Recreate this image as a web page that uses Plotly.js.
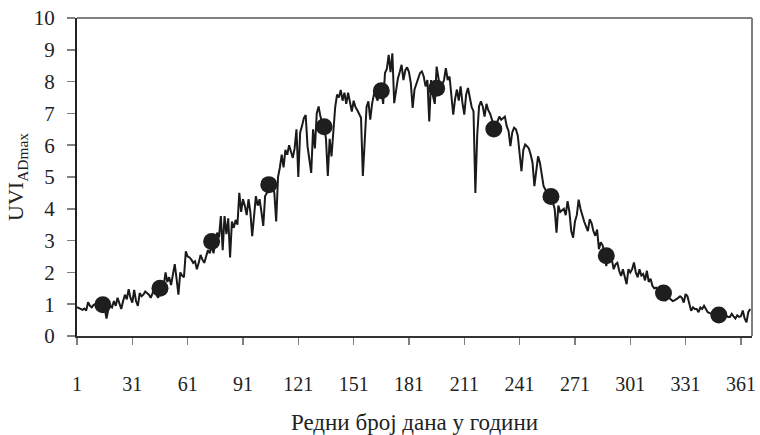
<!DOCTYPE html>
<html>
<head>
<meta charset="utf-8">
<script src="https://cdn.plot.ly/plotly-3.0.1.min.js"></script>
<style>html,body{margin:0;padding:0;background:#fff;}#chart{width:760px;height:435px;}</style>
</head>
<body>
<div id="chart"></div>
<script>
// Daily UVI_ADmax values, day 1 .. 366
var dailyUVI = [
  0.91, 0.88, 0.85, 0.82, 0.86, 0.80, 1.06, 0.95, 0.90, 0.98,
  1.00, 0.92, 0.98, 1.02, 0.95, 0.88, 0.55, 0.85, 0.95, 0.90,
  1.10, 0.95, 1.20, 1.00, 0.85, 1.10, 1.30, 1.15, 1.47, 1.20,
  1.05, 1.45, 1.10, 0.95, 1.35, 1.25, 1.30, 1.40, 1.35, 1.30,
  1.20, 1.35, 1.50, 1.30, 1.20, 1.45, 1.70, 1.55, 2.00, 1.70,
  1.85, 1.60, 2.00, 2.26, 1.80, 1.30, 2.00, 1.90, 1.85, 2.66,
  2.50, 2.47, 2.40, 2.30, 2.35, 2.10, 2.30, 2.55, 2.40, 2.30,
  2.50, 2.70, 2.60, 2.85, 2.60, 2.90, 3.25, 3.10, 3.77, 2.70,
  3.77, 3.20, 3.70, 2.47, 3.60, 3.40, 3.65, 3.50, 4.50, 3.90,
  4.30, 4.10, 3.80, 4.30, 3.90, 3.14, 3.80, 4.40, 4.10, 4.30,
  3.90, 3.46, 4.40, 4.50, 4.80, 4.60, 4.70, 4.50, 3.60, 5.00,
  5.30, 5.70, 5.30, 5.85, 5.70, 6.00, 5.80, 5.60, 5.90, 6.50,
  5.00, 6.40, 6.60, 6.85, 6.95, 5.97, 5.55, 5.13, 6.50, 5.90,
  7.00, 7.22, 6.90, 6.70, 6.60, 6.20, 5.03, 6.20, 5.65, 6.60,
  7.20, 7.59, 7.50, 7.74, 7.40, 7.65, 7.30, 7.65, 7.40, 7.06,
  7.40, 7.20, 7.10, 6.95, 6.86, 5.03, 6.30, 7.20, 7.38, 6.80,
  7.30, 7.60, 7.55, 7.40, 7.70, 7.75, 7.30, 8.27, 8.40, 8.84,
  8.30, 8.89, 7.32, 7.80, 8.10, 8.30, 8.53, 8.05, 8.35, 8.45,
  8.30, 7.95, 7.17, 7.75, 7.95, 8.15, 8.27, 8.32, 8.16, 7.85,
  8.05, 6.75, 8.05, 7.55, 7.30, 8.47, 8.15, 7.75, 7.90, 8.05,
  8.42, 8.05, 8.16, 7.60, 6.96, 7.45, 7.75, 7.40, 7.85, 7.33,
  6.96, 7.60, 7.80, 7.50, 7.20, 7.06, 4.50, 6.30, 7.22, 7.38,
  7.22, 6.90, 7.30, 7.10, 6.99, 6.80, 6.60, 6.70, 6.75, 6.90,
  6.80, 6.85, 6.90, 6.60, 6.45, 5.97, 6.40, 6.55, 6.50, 6.30,
  5.65, 5.18, 5.85, 6.02, 5.97, 5.90, 5.70, 5.45, 4.71, 5.25,
  5.65, 5.45, 5.05, 4.71, 4.60, 4.50, 4.45, 4.40, 4.20, 4.00,
  3.25, 4.10, 3.90, 3.95, 4.00, 3.80, 4.24, 3.90, 3.30, 3.09,
  3.60, 3.80, 4.29, 4.00, 3.75, 3.60, 3.45, 3.30, 3.67, 3.55,
  3.30, 3.15, 3.35, 2.73, 2.95, 2.85, 2.60, 2.20, 2.55, 2.45,
  2.40, 2.10, 2.25, 2.30, 2.05, 1.89, 2.10, 1.85, 1.63, 2.10,
  2.00, 2.10, 2.31, 2.00, 1.85, 2.10, 1.90, 1.95, 1.75, 2.05,
  1.70, 1.80, 1.58, 1.50, 1.52, 1.45, 1.40, 1.35, 1.30, 1.10,
  1.20, 1.20, 1.15, 1.10, 1.12, 1.15, 1.20, 1.25, 1.20, 1.05,
  1.32, 1.25, 1.00, 0.79, 0.90, 0.85, 0.85, 0.75, 0.90, 0.85,
  0.95, 0.85, 0.75, 0.72, 0.70, 0.70, 0.68, 0.70, 0.68, 0.65,
  0.66, 0.62, 0.64, 0.60, 0.60, 0.70, 0.62, 0.55, 0.65, 0.60,
  0.62, 0.80, 0.55, 0.43, 0.75, 0.85
];

// Monthly mean values (mid-month days)
var monthDays = [15, 46, 74, 105, 135, 166, 196, 227, 258, 288, 319, 349];
var monthUVI  = [0.98, 1.50, 2.97, 4.76, 6.58, 7.71, 7.79, 6.51, 4.39, 2.52, 1.35, 0.66];

// x-axis tick labels
var xTickVals = [1, 31, 61, 91, 121, 151, 181, 211, 241, 271, 301, 331, 361];
var xTickText = ['1','31','61','91','121','151','181','211','241','271','301','331','361'];
var yTickVals = [0,1,2,3,4,5,6,7,8,9,10];

var dayIndex = dailyUVI.map(function(v, i){ return i + 1; });

var serif = '"Liberation Serif", "Times New Roman", serif';

var traces = [
  {
    x: dayIndex, y: dailyUVI, type: 'scatter', mode: 'lines',
    line: {color: '#1a1a1a', width: 2},
    hoverinfo: 'x+y'
  },
  {
    x: monthDays, y: monthUVI, type: 'scatter', mode: 'markers',
    marker: {color: '#1e1e1e', size: 17, line: {width: 0}},
    hoverinfo: 'x+y'
  }
];

var layout = {
  width: 760, height: 435,
  margin: {l: 77, r: 8, t: 18, b: 99},
  paper_bgcolor: '#ffffff', plot_bgcolor: '#ffffff',
  showlegend: false,
  font: {family: serif, color: '#222'},
  xaxis: {
    range: [1, 367], tickmode: 'array', tickvals: xTickVals, ticktext: xTickText,
    ticks: 'outside', ticklen: 7, tickcolor: '#808080', tickwidth: 1.5,
    showline: true, linecolor: '#333333', linewidth: 2,
    showgrid: false, zeroline: false,
    tickfont: {family: serif, size: 20, color: '#222'},
    ticklabelstandoff: 22,
    title: {text: 'Редни број дана у години', font: {family: serif, size: 23, color: '#222'}, standoff: 20}
  },
  yaxis: {
    range: [0, 10], tickmode: 'array', tickvals: yTickVals,
    ticks: 'outside', ticklen: 8, tickcolor: '#808080', tickwidth: 1.5,
    showline: true, linecolor: '#222222', linewidth: 2,
    showgrid: false, zeroline: false,
    tickfont: {family: serif, size: 21, color: '#222'},
    ticklabelstandoff: 8,
    title: {text: 'UVI<sub>ADmax</sub>', font: {family: serif, size: 22, color: '#222'}, standoff: 4}
  },
  shapes: [
    {type: 'line', xref: 'paper', yref: 'paper', x0: 0, x1: 1, y0: 1, y1: 1, line: {color: '#808080', width: 2}},
    {type: 'line', xref: 'paper', yref: 'paper', x0: 1, x1: 1, y0: 0, y1: 1, line: {color: '#808080', width: 2}}
  ]
};

Plotly.newPlot('chart', traces, layout, {displayModeBar: false, staticPlot: true});
</script>
</body>
</html>
